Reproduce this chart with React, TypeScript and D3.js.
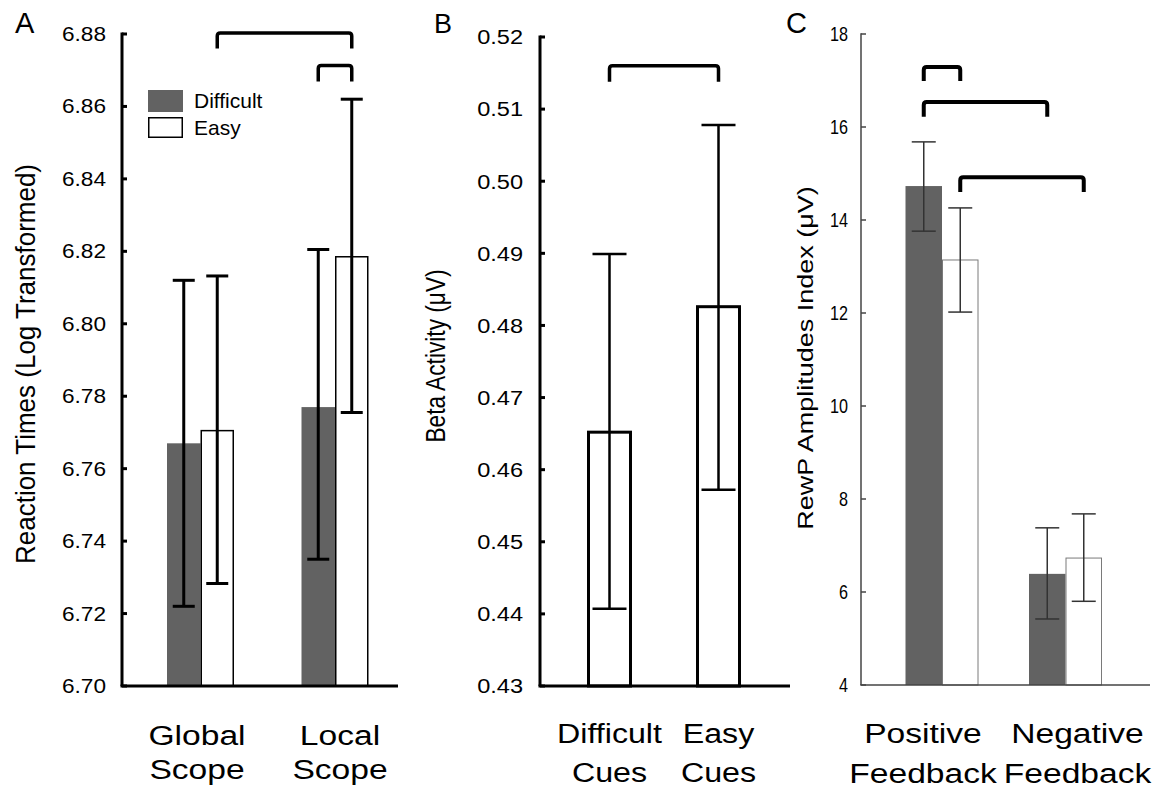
import React from "react";
import * as d3 from "d3";

// ---------- DATA ----------
// Panel A
const aGroups = ["Global Scope", "Local Scope"];
const aGroupLines = [["Global", "Scope"], ["Local", "Scope"]];
const aSeries = ["Difficult", "Easy"];
const aDifficultMean = [6.767, 6.777];
const aDifficultLow = [6.722, 6.735];
const aDifficultHigh = [6.812, 6.8205];
const aEasyMean = [6.7705, 6.8185];
const aEasyLow = [6.7283, 6.7755];
const aEasyHigh = [6.8132, 6.862];
const aTicks = [6.7, 6.72, 6.74, 6.76, 6.78, 6.8, 6.82, 6.84, 6.86, 6.88];
const aTitle = "Reaction Times (Log Transformed)";
const aBrackets = [
  { from: [0, 1], to: [1, 1], top: 6.8803, leg: 6.876 },
  { from: [1, 0], to: [1, 1], top: 6.8713, leg: 6.8669 },
];

// Panel B
const bGroups = ["Difficult Cues", "Easy Cues"];
const bGroupLines = [["Difficult", "Cues"], ["Easy", "Cues"]];
const bMean = [0.4652, 0.4826];
const bLow = [0.4407, 0.4572];
const bHigh = [0.4899, 0.5078];
const bTicks = [0.43, 0.44, 0.45, 0.46, 0.47, 0.48, 0.49, 0.5, 0.51, 0.52];
const bTitle = "Beta Activity (\u03bcV)";
const bBrackets = [{ from: [0, 0], to: [1, 0], top: 0.516, leg: 0.5138 }];

// Panel C
const cGroups = ["Positive Feedback", "Negative Feedback"];
const cGroupLines = [["Positive", "Feedback"], ["Negative", "Feedback"]];
const cDifficultMean = [14.73, 6.39];
const cDifficultLow = [13.76, 5.42];
const cDifficultHigh = [15.68, 7.38];
const cEasyMean = [13.14, 6.73];
const cEasyLow = [12.02, 5.8];
const cEasyHigh = [14.26, 7.68];
const cTicks = [4, 6, 8, 10, 12, 14, 16, 18];
const cTitle = "RewP Amplitudes Index (\u03bcV)";
const cBrackets = [
  { from: [0, 0], to: [0, 1], top: 17.29, leg: 16.99 },
  { from: [0, 0], to: [1, 0], top: 16.54, leg: 16.22 },
  { from: [0, 1], to: [1, 1], top: 14.92, leg: 14.6 },
];

// ---------- STYLE ----------
const FONT = "'Liberation Sans', Arial, Helvetica, sans-serif";
const DARK = "#626262";

type Series = {
  name: string;
  mean: number[];
  low: number[];
  high: number[];
  fill: string;
  stroke: string;
  strokeWidth: number;
};

type PanelCfg = {
  letter: string;
  letterX: number;
  letterSize: number;
  axisX: number;
  xEnd: number;
  yTop: number;
  yBottom: number;
  domain: [number, number];
  ticks: number[];
  tickFmt: (v: number) => string;
  tickSize: number;
  tickSx: number;
  tickGap: number;
  groups: string[];
  groupLines: string[][];
  groupRange: [number, number];
  labelDx: number[];
  labelSize: number;
  labelSx: number;
  labelBase: [number, number];
  barWidth: number;
  series: Series[];
  errStroke: number;
  errColor: string;
  capWidth: number;
  axisStroke: number;
  axisColor: string;
  title: string;
  titleX: number;
  titleY: number;
  titleSize: number;
  titleSx: number;
  brackets: { from: number[]; to: number[]; top: number; leg: number }[];
  bracketStroke: number;
};

function T(props: {
  x: number;
  y: number;
  sx?: number;
  size: number;
  anchor?: string;
  rotate?: boolean;
  dy?: string;
  children: React.ReactNode;
}) {
  const { x, y, sx = 1, size, anchor = "middle", rotate = false, dy, children } = props;
  const tr = `translate(${x},${y}) scale(${sx},1)` + (rotate ? " rotate(-90)" : "");
  return (
    <text
      transform={tr}
      fontFamily={FONT}
      fontSize={size}
      textAnchor={anchor}
      dy={dy}
      fill="#000"
    >
      {children}
    </text>
  );
}

function Panel({ c }: { c: PanelCfg }) {
  const y = d3.scaleLinear().domain(c.domain).range([c.yBottom, c.yTop]);
  const gx = d3.scalePoint<string>().domain(c.groups).range(c.groupRange);
  const n = c.series.length;
  const sxScale = d3
    .scaleBand<string>()
    .domain(c.series.map((s) => s.name))
    .range([(-n * c.barWidth) / 2, (n * c.barWidth) / 2])
    .padding(0);
  const barCenter = (gi: number, si: number) =>
    (gx(c.groups[gi]) as number) + (sxScale(c.series[si].name) as number) + c.barWidth / 2;

  return (
    <g>
      <T x={c.letterX} y={33} size={c.letterSize} anchor="start">
        {c.letter}
      </T>
      {/* bars */}
      {c.series.map((s, si) =>
        c.groups.map((g, gi) => {
          const x0 = (gx(g) as number) + (sxScale(s.name) as number);
          const sw = s.strokeWidth;
          return (
            <rect
              key={`b${si}-${gi}`}
              x={x0 + sw / 2}
              y={y(s.mean[gi])}
              width={c.barWidth - sw}
              height={c.yBottom - y(s.mean[gi])}
              fill={s.fill}
              stroke={s.stroke}
              strokeWidth={sw}
            />
          );
        })
      )}
      {/* error bars */}
      {c.series.map((s, si) =>
        c.groups.map((g, gi) => {
          const cx = barCenter(gi, si);
          return (
            <g key={`e${si}-${gi}`} stroke={c.errColor} strokeWidth={c.errStroke}>
              <line x1={cx} x2={cx} y1={y(s.low[gi])} y2={y(s.high[gi])} />
              <line x1={cx - c.capWidth / 2} x2={cx + c.capWidth / 2} y1={y(s.low[gi])} y2={y(s.low[gi])} />
              <line x1={cx - c.capWidth / 2} x2={cx + c.capWidth / 2} y1={y(s.high[gi])} y2={y(s.high[gi])} />
            </g>
          );
        })
      )}
      {/* axes */}
      <g stroke={c.axisColor} strokeWidth={c.axisStroke} fill="none">
        <line x1={c.axisX} x2={c.axisX} y1={c.yTop - c.axisStroke / 2} y2={c.yBottom} />
        <line x1={c.axisX - c.axisStroke / 2} x2={c.xEnd} y1={c.yBottom} y2={c.yBottom} />
        {c.ticks.map((t) => (
          <line key={t} x1={c.axisX} x2={c.axisX + 5} y1={y(t)} y2={y(t)} />
        ))}
      </g>
      {c.ticks.map((t) => (
        <T key={"l" + t} x={c.axisX - c.tickGap} y={y(t)} size={c.tickSize} sx={c.tickSx} anchor="end" dy="0.36em">
          {c.tickFmt(t)}
        </T>
      ))}
      {/* category labels */}
      {c.groups.map((g, gi) => (
        <g key={"g" + g}>
          {c.groupLines[gi].map((line, li) => (
            <T
              key={li}
              x={(gx(g) as number) + c.labelDx[gi]}
              y={c.labelBase[li]}
              size={c.labelSize}
              sx={c.labelSx}
            >
              {line}
            </T>
          ))}
        </g>
      ))}
      {/* y title */}
      <T x={c.titleX} y={c.titleY} size={c.titleSize} sx={c.titleSx} rotate>
        {c.title}
      </T>
      {/* significance brackets */}
      {c.brackets.map((b, bi) => {
        const x1 = barCenter(b.from[0], b.from[1]);
        const x2 = barCenter(b.to[0], b.to[1]);
        const yt = y(b.top);
        const yl = y(b.leg);
        const r = 3;
        const p = d3.path();
        p.moveTo(x1, yl);
        p.lineTo(x1, yt + r);
        p.quadraticCurveTo(x1, yt, x1 + r, yt);
        p.lineTo(x2 - r, yt);
        p.quadraticCurveTo(x2, yt, x2, yt + r);
        p.lineTo(x2, yl);
        return (
          <path key={"br" + bi} d={p.toString()} fill="none" stroke="#000" strokeWidth={c.bracketStroke} />
        );
      })}
    </g>
  );
}

const fmt2 = d3.format(".2f");
const fmtInt = d3.format("d");

const panelA: PanelCfg = {
  letter: "A",
  letterX: 15,
  letterSize: 29,
  axisX: 122,
  xEnd: 398,
  yTop: 34,
  yBottom: 686,
  domain: [6.7, 6.88],
  ticks: aTicks,
  tickFmt: fmt2,
  tickSize: 19.5,
  tickSx: 1.16,
  tickGap: 16,
  groups: aGroups,
  groupLines: aGroupLines,
  groupRange: [200.5, 335],
  labelDx: [-3.5, 5],
  labelSize: 28,
  labelSx: 1.2,
  labelBase: [745, 779],
  barWidth: 33.5,
  series: [
    { name: aSeries[0], mean: aDifficultMean, low: aDifficultLow, high: aDifficultHigh, fill: DARK, stroke: "none", strokeWidth: 0 },
    { name: aSeries[1], mean: aEasyMean, low: aEasyLow, high: aEasyHigh, fill: "#fff", stroke: "#000", strokeWidth: 1.5 },
  ],
  errStroke: 3,
  errColor: "#000",
  capWidth: 22,
  axisStroke: 3,
  axisColor: "#000",
  title: aTitle,
  titleX: 35,
  titleY: 364,
  titleSize: 26,
  titleSx: 1.07,
  brackets: aBrackets,
  bracketStroke: 3.5,
};

const panelB: PanelCfg = {
  letter: "B",
  letterX: 434,
  letterSize: 27,
  axisX: 540,
  xEnd: 790,
  yTop: 37,
  yBottom: 686,
  domain: [0.43, 0.52],
  ticks: bTicks,
  tickFmt: fmt2,
  tickSize: 20.5,
  tickSx: 1.15,
  tickGap: 17,
  groups: bGroups,
  groupLines: bGroupLines,
  groupRange: [609.5, 718.5],
  labelDx: [0, 0],
  labelSize: 28,
  labelSx: 1.15,
  labelBase: [743, 782],
  barWidth: 45,
  series: [{ name: "Beta", mean: bMean, low: bLow, high: bHigh, fill: "#fff", stroke: "#000", strokeWidth: 3 }],
  errStroke: 2.5,
  errColor: "#000",
  capWidth: 34,
  axisStroke: 3,
  axisColor: "#000",
  title: bTitle,
  titleX: 445,
  titleY: 356,
  titleSize: 22.7,
  titleSx: 1.23,
  brackets: bBrackets,
  bracketStroke: 3.5,
};

const panelC: PanelCfg = {
  letter: "C",
  letterX: 786,
  letterSize: 29,
  axisX: 861,
  xEnd: 1150,
  yTop: 34,
  yBottom: 685,
  domain: [4, 18],
  ticks: cTicks,
  tickFmt: fmtInt,
  tickSize: 19.5,
  tickSx: 0.83,
  tickGap: 13,
  groups: cGroups,
  groupLines: cGroupLines,
  groupRange: [942, 1065.5],
  labelDx: [-19, 12],
  labelSize: 28,
  labelSx: 1.2,
  labelBase: [743, 783],
  barWidth: 36.5,
  series: [
    { name: "Difficult", mean: cDifficultMean, low: cDifficultLow, high: cDifficultHigh, fill: DARK, stroke: "none", strokeWidth: 0 },
    { name: "Easy", mean: cEasyMean, low: cEasyLow, high: cEasyHigh, fill: "#fff", stroke: "#7a7a7a", strokeWidth: 1 },
  ],
  errStroke: 1.5,
  errColor: "#333",
  capWidth: 24,
  axisStroke: 1.5,
  axisColor: "#444",
  title: cTitle,
  titleX: 813,
  titleY: 358,
  titleSize: 27,
  titleSx: 0.83,
  brackets: cBrackets,
  bracketStroke: 4,
};

export default function App() {
  return (
    <svg
      width={1158}
      height={792}
      viewBox="0 0 1158 792"
      style={{ position: "absolute", left: 0, top: 0, background: "#fff" }}
    >
      <rect x={0} y={0} width={1158} height={792} fill="#fff" />
      <Panel c={panelA} />
      <Panel c={panelB} />
      <Panel c={panelC} />
      {/* legend for panel A */}
      <g>
        <rect x={148} y={90} width={35} height={22} fill={DARK} />
        <rect x={148.75} y={117.75} width={33.5} height={19.5} fill="#fff" stroke="#000" strokeWidth={1.5} />
        <T x={194} y={108} size={20} sx={1.05} anchor="start">
          {aSeries[0]}
        </T>
        <T x={194} y={135} size={20} sx={1.05} anchor="start">
          {aSeries[1]}
        </T>
      </g>
    </svg>
  );
}
